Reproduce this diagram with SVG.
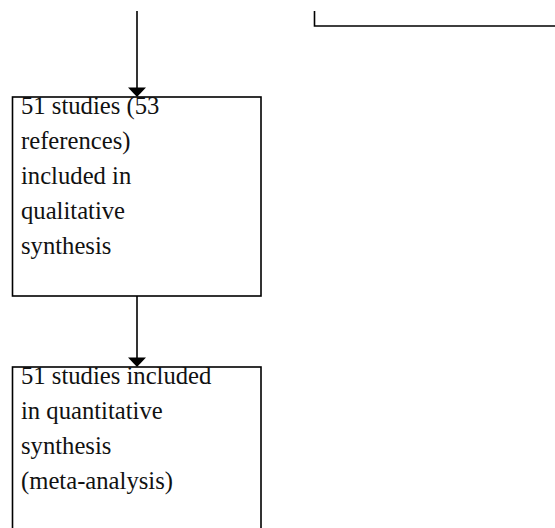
<svg xmlns="http://www.w3.org/2000/svg" width="555" height="528" viewBox="0 0 555 528">
  <defs>
    <style>
      .box { fill: #ffffff; stroke: #000000; stroke-width: 1.6; }
      .line { fill: none; stroke: #000000; stroke-width: 1.6; }
      .head { fill: #000000; stroke: none; }
      .txt { font-family: "Liberation Serif", "Times New Roman", serif; font-size: 24.67px; fill: #111111; }
    </style>
  </defs>
  <rect width="555" height="528" fill="#ffffff"/>
  <g id="node-qualitative">
    <rect class="box" x="12.5" y="97" width="248.5" height="199"/>
    <text class="txt" x="21" y="113.5">51 studies (53</text>
    <text class="txt" x="21" y="148.5">references)</text>
    <text class="txt" x="21" y="183.5">included in</text>
    <text class="txt" x="21" y="218.5">qualitative</text>
    <text class="txt" x="21" y="253.5">synthesis</text>
  </g>
  <g id="node-quantitative">
    <rect class="box" x="12.5" y="367" width="248.5" height="180"/>
    <text class="txt" x="21" y="383.5">51 studies included</text>
    <text class="txt" x="21" y="418.5">in quantitative</text>
    <text class="txt" x="21" y="453.5">synthesis</text>
    <text class="txt" x="21" y="488.5">(meta-analysis)</text>
  </g>
  <g id="connectors">
    <line class="line" x1="137" y1="11" x2="137" y2="90"/>
    <polygon class="head" points="128,87.5 146,87.5 137,97"/>
    <line class="line" x1="137" y1="296" x2="137" y2="360"/>
    <polygon class="head" points="128,357.5 146,357.5 137,367"/>
    <polyline class="line" points="314.5,11 314.5,26 555,26"/>
  </g>
</svg>
